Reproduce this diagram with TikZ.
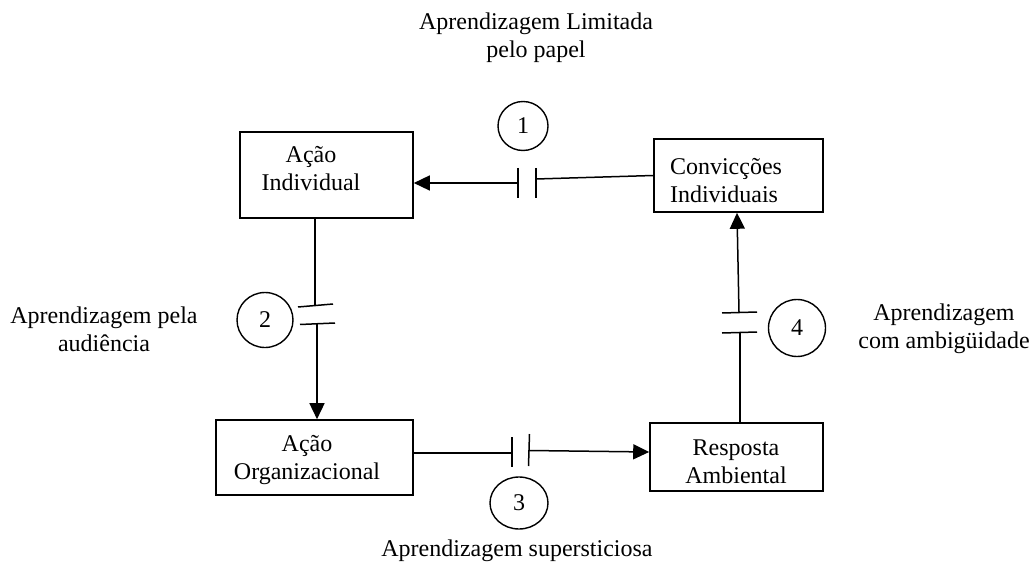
\documentclass[tikz,border=0pt]{standalone}
\usepackage{fontspec}
\setmainfont{Liberation Serif}
\usetikzlibrary{arrows.meta,shapes.geometric}
\begin{document}
\begin{tikzpicture}[x=1pt,y=-1pt,
  every node/.style={font=\fontsize{24}{28}\selectfont, inner sep=0pt},
  box/.style={draw, line width=1.6pt, rectangle},
  num/.style={draw, line width=1.4pt, ellipse},
  txt/.style={align=center},
  conn/.style={line width=1.5pt},
  arr/.style={conn, -{Triangle[length=16pt,width=15pt]}},
  bar/.style={line width=1.5pt}]
\useasboundingbox (0,0) rectangle (1033,577);
% boxes
\node[box, minimum width=173pt, minimum height=86pt] (ai) at (326.5,175) {};
\node[box, minimum width=169pt, minimum height=73pt] (cv) at (738.5,175.5) {};
\node[box, minimum width=197pt, minimum height=75pt] (ao) at (314.5,457.5) {};
\node[box, minimum width=173pt, minimum height=68pt] (ra) at (736.5,457) {};
% box texts
\node[txt] (tai) at (311,169) {Ação\\Individual};
\node[txt, align=left] (tcv) at (726,181) {Convicções\\Individuais};
\node[txt] (tao) at (307,460) {Ação\\Organizacional};
\node[txt] (tra) at (736,462) {Resposta\\Ambiental};
% numbered circles
\node[num, minimum width=50pt, minimum height=49pt] (n1) at (523,126) {1};
\node[num, minimum width=56pt, minimum height=55pt] (n2) at (265,320) {2};
\node[num, minimum width=58pt, minimum height=52pt] (n3) at (519,503) {3};
\node[num, minimum width=57pt, minimum height=57pt] (n4) at (797,328) {4};
% labels
\node[txt] (l1) at (536,38) {Aprendizagem Limitada\\pelo papel};
\node[txt] (l2) at (104,329) {Aprendizagem pela\\audiência};
\node[txt] (l4) at (944,329) {Aprendizagem\\com ambigüidade};
\node[txt] (l3) at (517,551) {Aprendizagem supersticiosa};
% connector 1
\coordinate (g1r) at (536,179);
\coordinate (g1l) at (518,183);
\draw[conn] (cv.west) -- (g1r);
\draw[bar] (536,168) -- (536,198);
\draw[bar] (518,168) -- (518,198);
\draw[arr] (g1l) -- (ai.east |- g1l);
% connector 2
\coordinate (g2t) at (315,305);
\coordinate (g2b) at (317,324);
\draw[conn] (ai.south -| g2t) -- (g2t);
\draw[bar] (298,307) -- (333,304);
\draw[bar] (300,324.5) -- (335,323);
\draw[arr] (g2b) -- (ao.north -| g2b);
% connector 3
\coordinate (g3l) at (512,453);
\coordinate (g3r) at (529,450.5);
\coordinate (e3) at (650,452);
\draw[conn] (ao.east |- g3l) -- (g3l);
\draw[bar] (512,437) -- (512,467);
\draw[bar] (529.5,434) -- (528.5,466);
\draw[arr] (g3r) -- (ra.west |- e3);
% connector 4
\coordinate (g4b) at (740,332);
\coordinate (g4t) at (739,312);
\coordinate (e4) at (737,212);
\draw[conn] (ra.north -| g4b) -- (g4b);
\draw[bar] (722,333) -- (757,332);
\draw[bar] (722,313) -- (757,312);
\draw[arr] (g4t) -- (cv.south -| e4);
\end{tikzpicture}
\end{document}
